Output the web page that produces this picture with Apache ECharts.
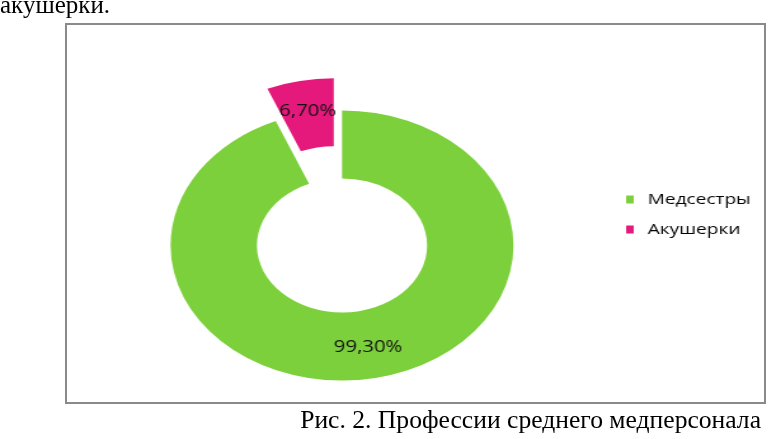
<!DOCTYPE html>
<html>
<head>
<meta charset="utf-8">
<script src="https://cdn.jsdelivr.net/npm/echarts@6/dist/echarts.min.js"></script>
<style>
  html, body { margin: 0; padding: 0; background: #fff; }
  #wrap { position: relative; width: 768px; height: 439px; overflow: hidden; }
  #page { position: absolute; left: 0; top: 0; width: 768px; height: 439px; }
  /* the original chart is stretched horizontally, so the pie layer is scaled */
  #pie { position: absolute; left: 0; top: 0; width: 605px; height: 439px;
         transform: scaleX(1.27); transform-origin: 0 0; }
</style>
</head>
<body>
<div id="wrap">
  <div id="page"></div>
  <div id="pie"></div>
</div>
<script>
const categories = ['Медсестры', 'Акушерки']
const shares = [99.3, 6.7]
const colors = ['#7cd03b', '#e5197b']
const pulledOut = 'Акушерки'

const headText = 'акушерки.'
const caption = 'Рис. 2. Профессии среднего медперсонала'

// page layer: text of the document and the frame of the chart
const pageChart = echarts.init(document.getElementById('page'))
pageChart.setOption({
  animation: false,
  graphic: [
    {
      type: 'rect',
      shape: { x: 66, y: 24, width: 699, height: 379 },
      style: { fill: 'none', stroke: '#8a8a8a', lineWidth: 2 }
    },
    {
      type: 'text',
      x: 0,
      y: 19,
      style: {
        text: headText,
        fill: '#000',
        font: '25px "Liberation Serif", "Times New Roman", serif',
        align: 'left',
        verticalAlign: 'bottom'
      }
    },
    {
      type: 'text',
      x: 761,
      y: 434,
      style: {
        text: caption,
        fill: '#000',
        font: '25.6px "Liberation Serif", "Times New Roman", serif',
        align: 'right',
        verticalAlign: 'bottom'
      }
    }
  ]
})

// chart layer
const pieChart = echarts.init(document.getElementById('pie'))
var option
option = {
  animation: false,
  color: colors,
  legend: {
    orient: 'vertical',
    left: 488,
    top: 187,
    icon: 'rect',
    itemWidth: 6,
    itemHeight: 8,
    itemGap: 15,
    selectedMode: false,
    textStyle: {
      color: '#000',
      fontSize: 15,
      fontFamily: 'Open Sans',
      padding: [0, 0, 0, 6]
    },
    data: categories
  },
  series: [
    {
      type: 'pie',
      center: [269.3, 245.5],
      radius: [67, 135],
      startAngle: 90,
      selectedMode: 'single',
      selectedOffset: 33,
      label: {
        show: true,
        position: 'inside',
        color: '#111',
        fontSize: 16,
        fontFamily: 'Open Sans',
        formatter: (p) => p.value.toFixed(2).replace('.', ',') + '%'
      },
      labelLine: { show: false },
      emphasis: { disabled: true },
      data: categories.map((name, i) => ({
        name: name,
        value: shares[i],
        selected: name === pulledOut
      }))
    }
  ]
}
option && pieChart.setOption(option)
</script>
</body>
</html>
